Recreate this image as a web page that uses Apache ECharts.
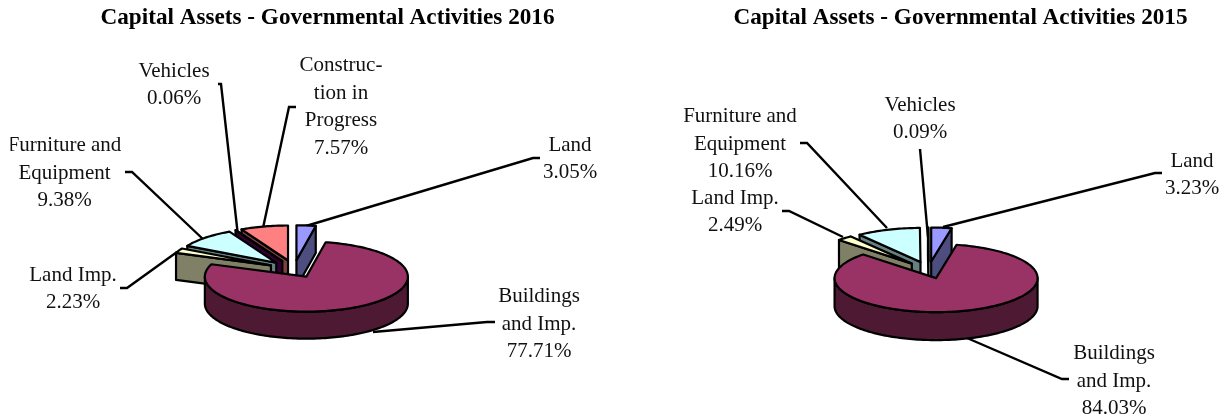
<!DOCTYPE html>
<html><head><meta charset="utf-8">
<style>html,body{margin:0;padding:0;background:#fff}#c{width:1224px;height:418px}</style>
<script src="https://cdn.jsdelivr.net/npm/echarts@6/dist/echarts.min.js"></script>
</head><body><div id="c"></div>
<script>
// ---- data (percent of total, clockwise from 12 o'clock)
const categories2016 = ['Land', 'Buildings\nand Imp.', 'Land Imp.', 'Furniture and\nEquipment', 'Vehicles', 'Construc-\ntion in\nProgress'];
const values2016 = [3.05, 77.71, 2.23, 9.38, 0.06, 7.57];
const categories2015 = ['Land', 'Buildings\nand Imp.', 'Land Imp.', 'Furniture and\nEquipment', 'Vehicles'];
const values2015 = [3.23, 84.03, 2.49, 10.16, 0.09];
const title2016 = 'Capital Assets - Governmental Activities 2016';
const title2015 = 'Capital Assets - Governmental Activities 2015';

// ---- styles, one pair (top, wall) per category
const topColors = ['#9999FF', '#993366', '#FFFFCC', '#CCFFFF', '#660066', '#FF8080'];
const wallColors = ['#4D4D80', '#4D1933', '#808066', '#668080', '#330033', '#804040'];
const FONT = '"Liberation Serif","Times New Roman",serif';

// ---- layout
const layout2016 = {
  cx: 294, cy: 269, rx: 101.5, ry: 35, depth: 27, explode: 0.25,
  labels: [[570, 159], [539, 324], [73, 289], [64.5, 173], [174, 85], [341, 107]],
  leaders: [
    [[540, 158], [533, 158], [306, 226]],
    [[495, 322], [487, 322], [373, 332]],
    [[120, 288], [127, 288], [177, 252]],
    [[125, 172], [132, 172], [205, 241]],
    [[218, 84], [221, 84], [238, 236]],
    [[296, 107], [289, 107], [263, 228]]
  ]
};
const layout2015 = {
  cx: 928.6, cy: 270, rx: 101.5, ry: 34, depth: 28, explode: 0.25,
  labels: [[1192, 175], [1114, 381], [735, 212], [740, 144], [920, 119]],
  leaders: [
    [[1162, 173], [1155, 173], [943, 227]],
    [[1069, 379], [1062, 379], [967, 338]],
    [[782, 211], [789, 211], [843, 237]],
    [[800, 143], [807, 143], [887, 228]],
    [[920, 149], [928, 237]]
  ]
};

const RAD = Math.PI / 180;

function slicesOf(values, g) {
  const total = values.reduce((a, b) => a + b, 0);
  let a = 0;
  return values.map((v, i) => {
    const start = a, end = a + v / total * 360;
    a = end;
    const mid = (start + end) / 2;
    const ax = g.cx + g.explode * g.rx * Math.sin(mid * RAD);
    const ay = g.cy - g.explode * g.ry * Math.cos(mid * RAD);
    return { i, start, end, mid, ax, ay };
  });
}
function rimPoint(s, g, deg, dy) {
  return [s.ax + g.rx * Math.sin(deg * RAD), s.ay - g.ry * Math.cos(deg * RAD) + (dy || 0)];
}
function arcPoints(s, g, from, to, dy) {
  const n = Math.max(1, Math.ceil((to - from) / 1.5));
  const out = [];
  for (let k = 0; k <= n; k++) out.push(rimPoint(s, g, from + (to - from) * k / n, dy));
  return out;
}
function poly(points, fill) {
  return {
    type: 'polygon', shape: { points },
    style: { fill, stroke: '#000', lineWidth: 2.2, lineJoin: 'round' }
  };
}
function sliceShapes(s, g) {
  const apex = [s.ax, s.ay], apexLow = [s.ax, s.ay + g.depth];
  const wall = wallColors[s.i], kids = [];
  const radial = deg => poly([apex, rimPoint(s, g, deg), rimPoint(s, g, deg, g.depth), apexLow], wall);
  if (Math.sin(s.start * RAD) < -1e-6) kids.push(radial(s.start));
  if (Math.sin(s.end * RAD) > 1e-6) kids.push(radial(s.end));
  const from = Math.max(s.start, 90), to = Math.min(s.end, 270);
  if (to > from) {
    kids.push(poly(arcPoints(s, g, from, to, 0).concat(arcPoints(s, g, from, to, g.depth).reverse()), wall));
  }
  kids.push(poly([apex].concat(arcPoints(s, g, s.start, s.end, 0)), topColors[s.i]));
  return kids;
}
function pieSeries(categories, values, g) {
  const slices = slicesOf(values, g);
  // painter's order: farthest wedge first
  const order = slices.slice().sort((p, q) => Math.cos(q.mid * RAD) - Math.cos(p.mid * RAD));
  return [
    {
      type: 'custom', coordinateSystem: 'none', z: 1, silent: true, animation: false,
      data: categories.map((c, i) => ({ name: c, value: values[i] })),
      renderItem: (p) => {
        const i = p.dataIndex;
        const text = categories[i] + '\n' + values[i].toFixed(2) + '%';
        return {
          type: 'group', children: [
            {
              type: 'polyline', shape: { points: g.leaders[i] },
              style: { fill: 'none', stroke: '#000', lineWidth: 2.4 }
            },
            {
              type: 'text', x: g.labels[i][0], y: g.labels[i][1],
              style: {
                text, fill: '#111', font: '21px ' + FONT, lineHeight: 27.7,
                align: 'center', verticalAlign: 'middle'
              }
            }
          ]
        };
      }
    },
    {
      type: 'custom', coordinateSystem: 'none', z: 2, silent: true, animation: false,
      data: order.map(s => ({ name: categories[s.i], value: values[s.i] })),
      renderItem: (p) => ({ type: 'group', children: sliceShapes(order[p.dataIndex], g) })
    }
  ];
}

const chart = echarts.init(document.getElementById('c'), null, { renderer: 'canvas' });
const titleStyle = { fontFamily: FONT, fontSize: 23.2, fontWeight: 'bold', color: '#000' };
chart.setOption({
  animation: false,
  backgroundColor: '#fff',
  title: [
    { text: title2016, left: 327.5, top: 7, textAlign: 'center', textStyle: titleStyle, padding: 0 },
    { text: title2015, left: 960.5, top: 7, textAlign: 'center', textStyle: titleStyle, padding: 0 }
  ],
  graphic: [{
    type: 'rect', left: 0, top: 130, shape: { width: 10.5, height: 28 }, z: 100, zlevel: 1, silent: true,
    style: { fill: '#fff' }
  }],
  series: [].concat(
    pieSeries(categories2016, values2016, layout2016),
    pieSeries(categories2015, values2015, layout2015)
  )
});
</script></body></html>
